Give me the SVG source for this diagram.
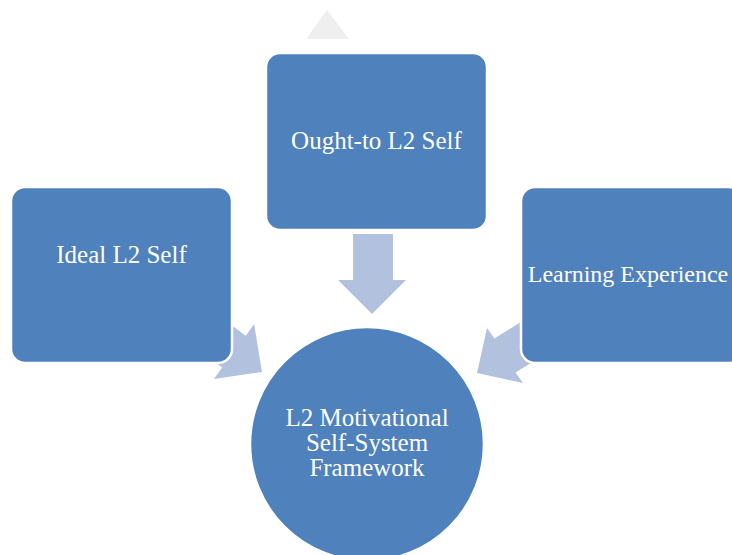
<svg xmlns="http://www.w3.org/2000/svg" width="732" height="555" viewBox="0 0 732 555">
  <style>
    .box { fill: #4F81BD; stroke: #FFFFFF; stroke-width: 2.5; }
    .arrow { fill: #B2C2DE; }
    .lbl { font-family: "Liberation Serif", "Times New Roman", serif; font-size: 25px; fill: #FFFFFF; text-anchor: middle; }
  </style>
  <rect width="732" height="555" fill="#FFFFFF"/>
  <polygon points="327,10 306,39 349,39" fill="#EFEFEF"/>
  <g id="connectors">
    <polygon class="arrow" points="353,234 393,234 393,280 406,280 372,314 338,280 353,280"/>
    <polygon class="arrow" points="197.4,300.2 245.8,335.7 254.1,324.1 262,372 213.9,378.9 222.2,367.6 173.8,332.1"/>
    <polygon class="arrow" points="545.3,306.7 494.4,338.5 487,328 477,373 523,383 515.6,372.5 566.5,340.7"/>
  </g>
  <g id="ought">
    <rect class="box" x="266" y="53" width="221" height="177" rx="14"/>
    <text class="lbl" x="376.5" y="149">Ought-to L2 Self</text>
  </g>
  <g id="ideal">
    <rect class="box" x="11" y="187" width="221" height="176" rx="14"/>
    <text class="lbl" x="121.5" y="263">Ideal L2 Self</text>
  </g>
  <g id="learning">
    <rect class="box" x="521" y="187" width="221" height="176" rx="14"/>
    <text class="lbl" x="628" y="282" style="font-size:24px">Learning Experience</text>
  </g>
  <g id="framework">
    <circle class="box" cx="367" cy="444" r="117"/>
    <text class="lbl" x="367" y="426">L2 Motivational</text>
    <text class="lbl" x="367" y="451">Self-System</text>
    <text class="lbl" x="367" y="476">Framework</text>
  </g>
</svg>
